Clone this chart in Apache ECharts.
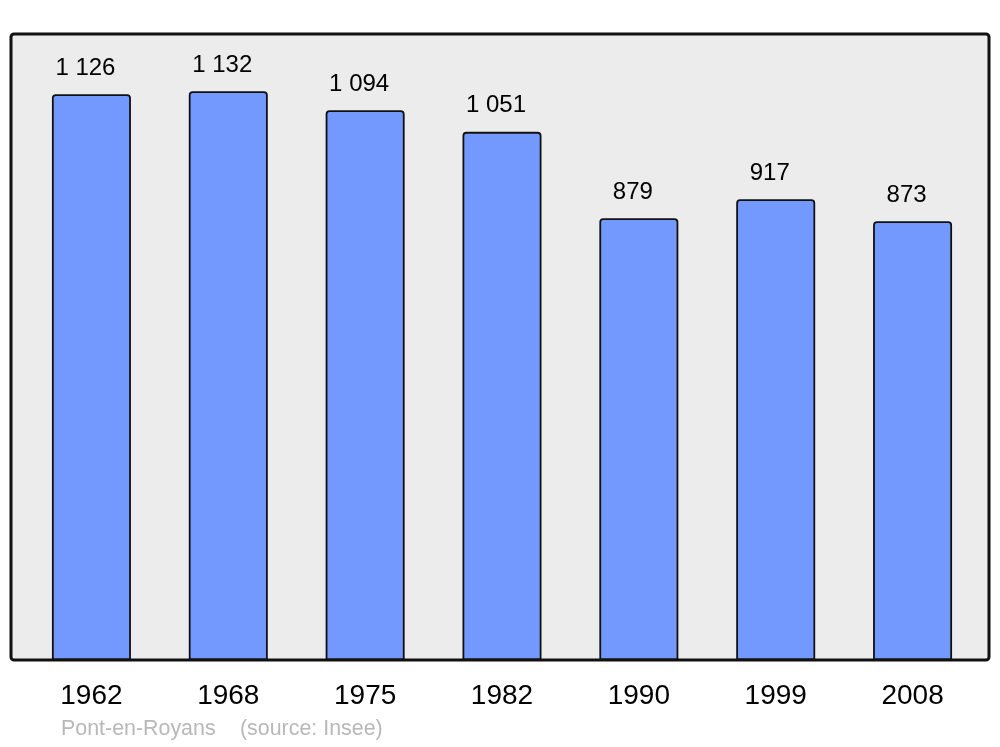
<!DOCTYPE html>
<html><head><meta charset="utf-8">
<script src="https://cdn.jsdelivr.net/npm/echarts@6/dist/echarts.min.js"></script>
<style>html,body{margin:0;padding:0;background:#fff}#c{width:1000px;height:747px}</style>
</head><body><div id="c"></div>
<script>
const years = ['1962','1968','1975','1982','1990','1999','2008'];
const population = [1126,1132,1094,1051,879,917,873];
const placeName = 'Pont-en-Royans';
const sourceNote = '(source: Insee)';

const chart = echarts.init(document.getElementById('c'), null, {renderer:'canvas'});
const fmt = v => String(v).replace(/\B(?=(\d{3})+(?!\d))/g, ' ');
const FF = '"Liberation Sans", Arial, sans-serif';
chart.setOption({
  animation:false,
  backgroundColor:'#ffffff',
  textStyle:{fontFamily:FF},
  graphic:[
    {type:'rect', z:-10, shape:{x:11,y:34,width:978,height:626,r:3},
     style:{fill:'#ececec', stroke:'#111', lineWidth:3}},
    {type:'text', left:61, top:719, style:{text:placeName, fill:'#b8b8b8', font:'21.4px ' + FF}},
    {type:'text', left:240, top:719, style:{text:sourceNote, fill:'#b8b8b8', font:'21.4px ' + FF}}
  ],
  grid:{left:23, right:19, top:57, bottom:87},
  xAxis:{type:'category', data:years,
    axisLine:{show:false}, axisTick:{show:false},
    axisLabel:{color:'#000', fontSize:28, margin:22, fontFamily:FF}},
  yAxis:{type:'value', min:0, max:1200, show:false, splitLine:{show:false}},
  series:[{type:'bar', data:population, barWidth:79,
    itemStyle:{color:'#7399ff', borderColor:'#111', borderWidth:1.8, borderRadius:[3,3,0,0]},
    label:{show:true, position:'top', distance:14, offset:[-6,0], color:'#000', fontSize:24,
      fontFamily:FF, formatter:p=>fmt(p.value)}}]
});
</script></body></html>
